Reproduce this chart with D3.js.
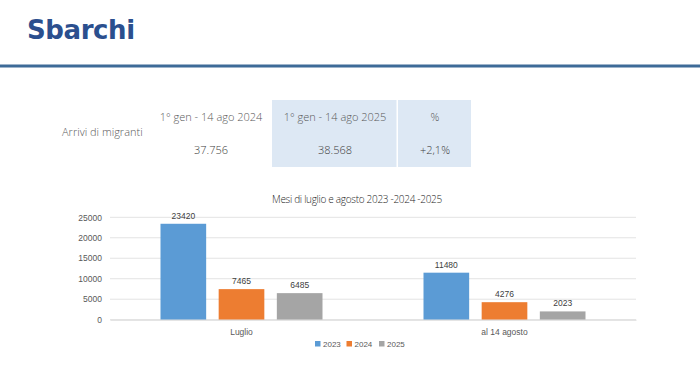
<!DOCTYPE html>
<html><head><meta charset="utf-8">
<script src="https://cdn.jsdelivr.net/npm/d3@7"></script>
<style>body{margin:0;background:#fff}svg{display:block}</style>
</head><body>
<script>
const categories = ["Luglio", "al 14 agosto"];
const seriesNames = ["2023", "2024", "2025"];
const values2023 = [23420, 11480];
const values2024 = [7465, 4276];
const values2025 = [6485, 2023];
const yTicks = [0, 5000, 10000, 15000, 20000, 25000];
const tableHeaders = ["1° gen - 14 ago 2024", "1° gen - 14 ago 2025", "%"];
const tableValues = ["37.756", "38.568", "+2,1%"];
const rowLabel = "Arrivi di migranti";
const colors = ["#5b9bd5", "#ed7d31", "#a5a5a5"];

const W = 700, H = 367;
const svg = d3.select("body").append("svg").attr("width", W).attr("height", H);

// Header
svg.append("text").attr("x", 27).attr("y", 38.5).text("Sbarchi")
  .attr("font-family", "DejaVu Sans, sans-serif").attr("font-weight", 700)
  .attr("font-size", 26).attr("fill", "#2b4f8e").attr("letter-spacing", -0.4);
svg.append("rect").attr("x", 0).attr("y", 64.5).attr("width", W).attr("height", 3).attr("fill", "#3e6b98");

// Table
const tf = "Open Sans, sans-serif";
svg.append("rect").attr("x", 272).attr("y", 100).attr("width", 199).attr("height", 67).attr("fill", "#dde8f4");
svg.append("rect").attr("x", 396.5).attr("y", 100).attr("width", 1.5).attr("height", 67).attr("fill", "#fff");
const colX = [211, 335, 435];
tableHeaders.forEach((t, i) => {
  svg.append("text").attr("x", colX[i]).attr("y", 121).attr("text-anchor", "middle")
    .attr("font-family", tf).attr("font-weight", 300).attr("font-size", 11).attr("fill", "#595959").text(t);
});
tableValues.forEach((t, i) => {
  svg.append("text").attr("x", colX[i]).attr("y", 154).attr("text-anchor", "middle")
    .attr("font-family", tf).attr("font-weight", 300).attr("font-size", 11).attr("fill", "#404040").text(t);
});
svg.append("text").attr("x", 62).attr("y", 135.5).attr("font-family", tf).attr("font-weight", 300)
  .attr("font-size", 11).attr("fill", "#595959").text(rowLabel);

// Chart
const plot = {l: 110, r: 636, t: 217.3, b: 319.7};
const y = d3.scaleLinear().domain([0, 25000]).range([plot.b, plot.t]);
const x0 = d3.scaleBand().domain(categories).range([plot.l, plot.r]);
const x1 = d3.scaleBand().domain(seriesNames).range([0, 162]).paddingInner(0.215);
const cf = "Liberation Sans, Arial, sans-serif";

svg.append("g").selectAll("line").data(yTicks).join("line")
  .attr("x1", plot.l).attr("x2", plot.r).attr("y1", d => y(d)).attr("y2", d => y(d))
  .attr("stroke", "#e3e3e3").attr("stroke-width", 1);

const yAxis = svg.append("g").attr("transform", `translate(${plot.l},0)`)
  .call(d3.axisLeft(y).tickValues(yTicks).tickSize(0).tickPadding(8).tickFormat(d3.format("d")));
yAxis.select(".domain").remove();
yAxis.selectAll("text").attr("font-family", cf).attr("font-size", 8.5).attr("fill", "#595959");

const seriesVals = [values2023, values2024, values2025];
const data = [];
categories.forEach((c, ci) => seriesNames.forEach((s, si) => data.push({c, s, si, v: seriesVals[si][ci]})));
const off = (x0.bandwidth() - 162) / 2;
const g = svg.append("g");
g.selectAll("rect").data(data).join("rect")
  .attr("x", d => x0(d.c) + off + x1(d.s)).attr("width", x1.bandwidth())
  .attr("y", d => y(d.v)).attr("height", d => y(0) - y(d.v)).attr("fill", d => colors[d.si]);
g.selectAll("text").data(data).join("text")
  .attr("x", d => x0(d.c) + off + x1(d.s) + x1.bandwidth() / 2).attr("y", d => y(d.v) - 5)
  .attr("text-anchor", "middle").attr("font-family", cf).attr("font-size", 8.5).attr("fill", "#404040")
  .text(d => d.v);

const xAxis = svg.append("g").attr("transform", `translate(0,${plot.b})`)
  .call(d3.axisBottom(x0).tickSize(0).tickPadding(9));
xAxis.select(".domain").attr("stroke", "#d9d9d9");
xAxis.selectAll("text").attr("font-family", cf).attr("font-size", 8.5).attr("fill", "#595959");

svg.append("text").attr("x", 357).attr("y", 203).attr("text-anchor", "middle")
  .attr("font-family", tf).attr("font-weight", 300).attr("font-size", 10).attr("fill", "#262626")
  .attr("letter-spacing", -0.3).text("Mesi di luglio e agosto 2023 -2024 -2025");

// Legend
const legX = [315, 346.5, 379];
const lg = svg.append("g");
seriesNames.forEach((s, i) => {
  lg.append("rect").attr("x", legX[i]).attr("y", 341).attr("width", 5.5).attr("height", 5.5).attr("fill", colors[i]);
  lg.append("text").attr("x", legX[i] + 8).attr("y", 347).attr("font-family", cf).attr("font-size", 8)
    .attr("fill", "#595959").text(s);
});
</script>
</body></html>
